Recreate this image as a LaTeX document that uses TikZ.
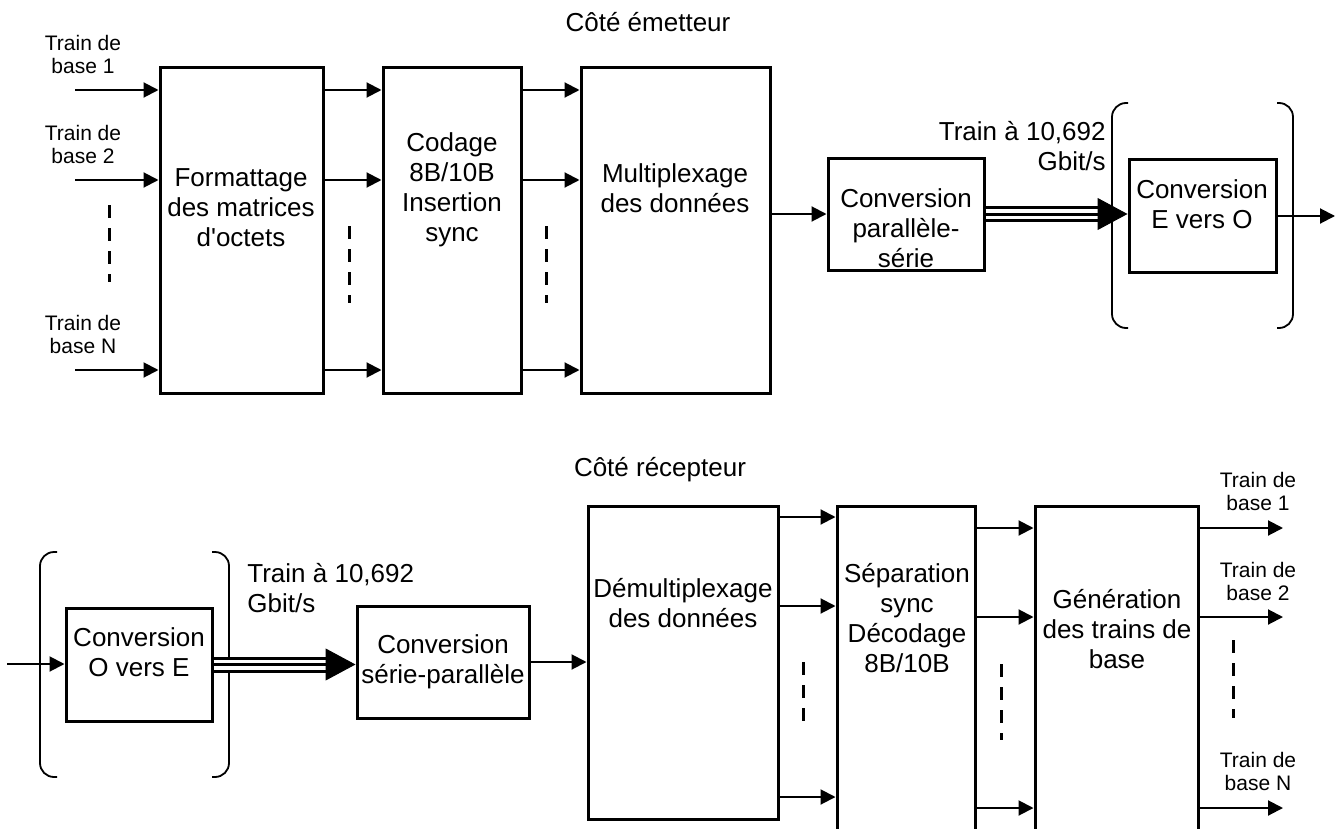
\documentclass[tikz,border=0pt]{standalone}
\usepackage{fontspec}
\setmainfont{Liberation Sans}
\usetikzlibrary{arrows.meta,fit}
\tikzset{
  box/.style={draw, line width=1.5pt, inner sep=0pt},
  txt/.style={font=\fontsize{13}{15}\selectfont, align=center, inner sep=0pt},
  lbl/.style={font=\fontsize{10.5}{11.5}\selectfont, align=center, inner sep=0pt},
  arr/.style={line width=1pt, -{Triangle[length=7.5pt,width=7.5pt]}},
  vdots/.style={line width=1.5pt, dash pattern=on 6.5pt off 5pt},
  brk/.style={line width=0.9pt, rounded corners=7pt},
  trip/.style={line width=1.5pt, double=white, double distance=5pt, shorten >=14pt},
  tripmid/.style={line width=1.5pt, shorten >=14pt},
  bighead/.style={line width=0.5pt, -{Triangle[length=15pt,width=16pt]}},
}
\begin{document}
\begin{tikzpicture}[x=0.5pt,y=-0.5pt]
\useasboundingbox (0,0) rectangle (1343,829);
\clip (0,0) rectangle (1343,829);

% ---------------- Top : transmitter side ----------------
\node[txt] (ttl1) at (648,22) {Côté émetteur};

\node[box, fit={(160,68) (323,393)}] (fmt) {};
\node[box, fit={(383,68) (521,393)}] (cod) {};
\node[box, fit={(581,68) (770,393)}] (mux) {};
\node[box, fit={(828,158) (984,270)}] (cps) {};
\node[box, fit={(1129,159) (1276,272)}] (eo) {};

\node[txt] (fmtt) at (241,208) {Formattage\\des matrices\\d\textquotesingle octets};
\node[txt] (codt) at (452,190) {Codage\\8B/10B\\Insertion\\sync};
\node[txt] (muxt) at (675,188) {Multiplexage\\des données};
\node[txt] (cpst) at (906,228) {Conversion\\parallèle-\\série};
\node[txt] (eot) at (1202,204) {Conversion\\E vers O};
\node[txt, align=right, anchor=east] (rate1) at (1106,146) {Train à 10,692\\Gbit/s};

\node[lbl] (lb1) at (83,54) {Train de\\base 1};
\node[lbl] (lb2) at (83,144) {Train de\\base 2};
\node[lbl] (lbn) at (83,334) {Train de\\base N};

\coordinate (i1) at (75,90);
\coordinate (i2) at (75,180);
\coordinate (in) at (75,370);
\foreach \c in {i1,i2,in}{
  \draw[arr] (\c) -- (\c -| fmt.west);
  \draw[arr] (fmt.east |- \c) -- (cod.west |- \c);
  \draw[arr] (cod.east |- \c) -- (mux.west |- \c);
}
\coordinate (d1a) at (109,205); \coordinate (d1b) at (109,282);
\coordinate (d2a) at (349,226); \coordinate (d2b) at (349,303);
\coordinate (d3a) at (546,226); \coordinate (d3b) at (546,303);
\draw[vdots] (d1a) -- (d1b);
\draw[vdots] (d2a) -- (d2b);
\draw[vdots] (d3a) -- (d3b);

\draw[arr] (mux.east |- cps.west) -- (cps.west);

% triple-line arrow
\draw[trip] (cps.east) -- (cps.east -| eo.west);
\draw[tripmid] (cps.east) -- (cps.east -| eo.west);
\draw[bighead] ([xshift=-15pt]cps.east -| eo.west) -- (cps.east -| eo.west);

% brackets
\draw[brk] (1128,103) -- (1112,103) -- (1112,328) -- (1128,328);
\draw[brk] (1277,103) -- (1293,103) -- (1293,328) -- (1277,328);

\coordinate (out) at (1335,216);
\draw[arr] (eo.east |- out) -- (out);

% ---------------- Bottom : receiver side ----------------
\node[txt] (ttl2) at (660,470) {Côté récepteur};

\node[box, fit={(66,608) (212,721)}] (oe) {};
\node[box, fit={(357,606) (529,718)}] (sp) {};
\node[box, fit={(588,506) (778,819)}] (dm) {};
\node[box, fit={(837,506) (975,880)}] (sep) {};
\node[box, fit={(1035,506) (1198,880)}] (gen) {};

\node[txt] (oet) at (139,652) {Conversion\\O vers E};
\node[txt] (spt) at (443,662) {Conversion\\série-parallèle};
\node[txt] (dmt) at (683,603) {Démultiplexage\\des données};
\node[txt] (sept) at (907,618) {Séparation\\sync\\Décodage\\8B/10B};
\node[txt] (gent) at (1117,629) {Génération\\des trains de\\base};
\node[txt, align=left, anchor=west] (rate2) at (247,588) {Train à 10,692\\Gbit/s};

\draw[brk] (57,552) -- (40,552) -- (40,777) -- (57,777);
\draw[brk] (212,552) -- (229,552) -- (229,777) -- (212,777);

\coordinate (rin) at (7,664);
\draw[arr] (rin) -- (rin -| oe.west);

\draw[trip] (oe.east) -- (oe.east -| sp.west);
\draw[tripmid] (oe.east) -- (oe.east -| sp.west);
\draw[bighead] ([xshift=-15pt]oe.east -| sp.west) -- (oe.east -| sp.west);

\draw[arr] (sp.east) -- (sp.east -| dm.west);

\coordinate (r1) at (0,517);
\coordinate (r2) at (0,606);
\coordinate (rn) at (0,797);
\foreach \c in {r1,r2,rn}{
  \draw[arr] (dm.east |- \c) -- (sep.west |- \c);
}
\coordinate (o1) at (1283,528);
\coordinate (o2) at (1283,617);
\coordinate (on) at (1283,808);
\foreach \c in {o1,o2,on}{
  \draw[arr] (sep.east |- \c) -- (gen.west |- \c);
  \draw[arr] (gen.east |- \c) -- (\c);
}

\node[lbl] (rl1) at (1258,491) {Train de\\base 1};
\node[lbl] (rl2) at (1258,581) {Train de\\base 2};
\node[lbl] (rln) at (1258,771) {Train de\\base N};

\coordinate (e1a) at (803,662); \coordinate (e1b) at (803,729);
\coordinate (e2a) at (1001,664); \coordinate (e2b) at (1001,740);
\coordinate (e3a) at (1233,640); \coordinate (e3b) at (1233,718);
\draw[vdots] (e1a) -- (e1b);
\draw[vdots] (e2a) -- (e2b);
\draw[vdots] (e3a) -- (e3b);
\end{tikzpicture}
\end{document}
